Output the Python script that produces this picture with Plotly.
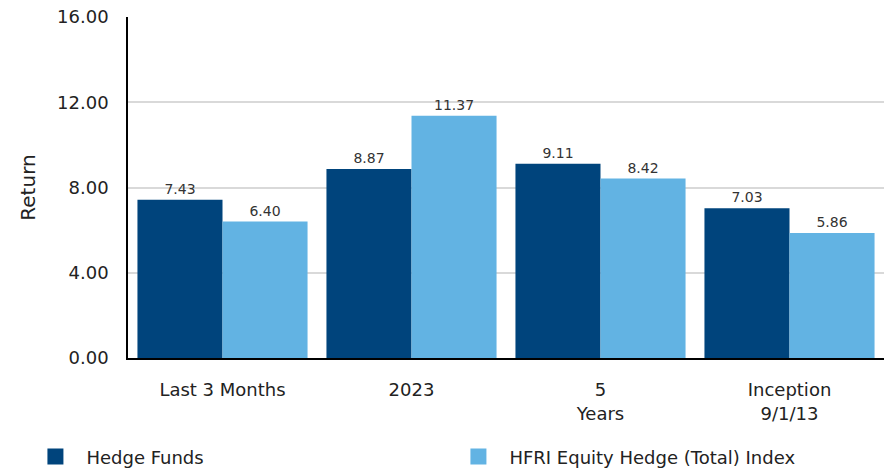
import plotly.graph_objects as go

categories = ["Last 3 Months", "2023", "5<br>Years", "Inception<br>9/1/13"]
series_names = ["Hedge Funds", "HFRI Equity Hedge (Total) Index"]
hedge_funds = [7.43, 8.87, 9.11, 7.03]
hfri_index = [6.40, 11.37, 8.42, 5.86]
y_ticks = [0, 4, 8, 12, 16]

colors = ["#00447C", "#62B3E3"]
FONT = "DejaVu Sans"

fig = go.Figure()
for name, vals, col in zip(series_names, [hedge_funds, hfri_index], colors):
    fig.add_trace(go.Bar(
        x=categories, y=vals, name=name, legendgroup=name, showlegend=False,
        marker=dict(color=col, line=dict(width=0)),
        texttemplate="%{y:.2f}", textposition="outside",
        textfont=dict(size=14, color="#333333", family=FONT),
        cliponaxis=False,
    ))
    # legend entry with a larger square swatch
    fig.add_trace(go.Scatter(
        x=[None], y=[None], name=name, legendgroup=name, mode="markers",
        marker=dict(symbol="square", size=24, color=col), hoverinfo="skip",
    ))

fig.update_layout(
    width=886, height=468,
    margin=dict(l=120, r=10, t=9, b=118, autoexpand=False),
    paper_bgcolor="white", plot_bgcolor="white",
    barmode="group", bargap=0.1, bargroupgap=0,
    font=dict(family=FONT, size=18, color="#222222"),
    showlegend=True,
    legend=dict(orientation="h", xref="paper", yref="paper",
                x=-0.137, y=-0.29, xanchor="left", yanchor="middle",
                entrywidth=356, entrywidthmode="pixels",
                font=dict(size=18, color="#222222", family=FONT),
                itemwidth=52),
    xaxis=dict(showline=True, linecolor="#000000", linewidth=1.5,
               tickfont=dict(size=18, color="#222222"), ticks="",
               ticklabelstandoff=15, showgrid=False),
    yaxis=dict(range=[0, 16], tickvals=y_ticks, tickformat=".2f",
               showline=True, linecolor="#000000", linewidth=1.5,
               gridcolor="#d9d9d9", gridwidth=1.5, zeroline=False,
               ticks="", ticklabelstandoff=14, ticklabeloverflow="allow",
               tickfont=dict(size=18, color="#222222"),
               title=dict(text="Return", font=dict(size=20, color="#222222"), standoff=16)),
)

fig.write_html("out.html")
